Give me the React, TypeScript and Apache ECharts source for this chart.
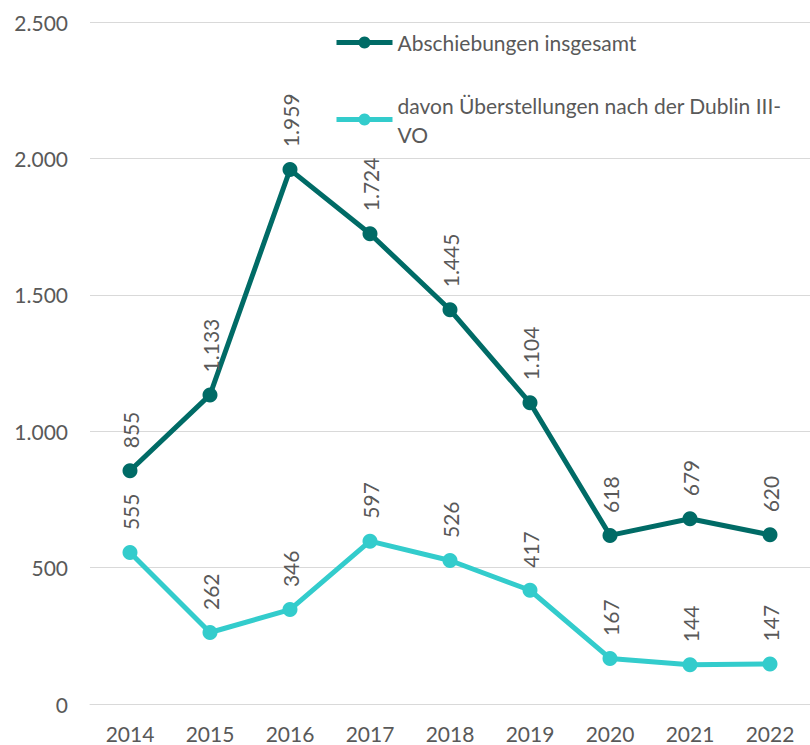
import React, { useEffect, useRef } from "react";
import * as echarts from "echarts";

const years = ["2014", "2015", "2016", "2017", "2018", "2019", "2020", "2021", "2022"];
const abschiebungen = [855, 1133, 1959, 1724, 1445, 1104, 618, 679, 620];
const dublin = [555, 262, 346, 597, 526, 417, 167, 144, 147];
const seriesNames = ["Abschiebungen insgesamt", "davon Überstellungen nach der Dublin III-VO"];

const fmt = (v: number) => {
  const s = String(Math.round(v));
  return s.replace(/\B(?=(\d{3})+(?!\d))/g, ".");
};

const FONT = "Lato";
const TXT = "#595959";
const FS = 21;

export default function App() {
  const ref = useRef<HTMLDivElement>(null);
  useEffect(() => {
    if (!ref.current) return;
    const chart = echarts.init(ref.current, undefined, { renderer: "svg" });
    const label = {
      show: true,
      position: "top" as const,
      rotate: 90,
      align: "left" as const,
      verticalAlign: "middle" as const,
      distance: 15,
      color: TXT,
      fontFamily: FONT,
      fontSize: FS,
      formatter: (p: any) => fmt(p.value),
    };
    chart.setOption({
      animation: false,
      backgroundColor: "#ffffff",
      grid: { left: 90, right: 0, top: 22, bottom: 41, containLabel: false },
      legend: {
        orient: "vertical",
        left: 334,
        top: 28,
        padding: 0,
        itemWidth: 56,
        itemHeight: 15,
        itemGap: 19,
        lineStyle: { width: 5 },
        textStyle: { color: TXT, fontFamily: FONT, fontSize: FS, lineHeight: 29 },
        formatter: (name: string) =>
          name === seriesNames[1] ? "davon Überstellungen nach der Dublin III-\nVO" : name,
        data: [
          { name: seriesNames[0] },
          { name: seriesNames[1], textStyle: { padding: [29, 0, 0, 0] } },
        ],
      },
      xAxis: {
        type: "category",
        data: years,
        boundaryGap: true,
        axisLine: { show: true, lineStyle: { color: "#d9d9d9", width: 1 } },
        axisTick: { show: false },
        axisLabel: { color: TXT, fontFamily: FONT, fontSize: FS, margin: 19 },
      },
      yAxis: {
        type: "value",
        min: 0,
        max: 2500,
        interval: 500,
        axisLine: { show: false },
        axisTick: { show: false },
        splitLine: { lineStyle: { color: "#d9d9d9", width: 1 } },
        axisLabel: {
          color: TXT,
          fontFamily: FONT,
          fontSize: FS,
          margin: 22,
          formatter: (v: number) => fmt(v),
        },
      },
      series: [
        {
          name: seriesNames[0],
          type: "line",
          data: abschiebungen,
          symbol: "circle",
          symbolSize: 15,
          itemStyle: { color: "#006B66" },
          lineStyle: { color: "#006B66", width: 5 },
          label,
        },
        {
          name: seriesNames[1],
          type: "line",
          data: dublin,
          symbol: "circle",
          symbolSize: 15,
          itemStyle: { color: "#33CCCC" },
          lineStyle: { color: "#33CCCC", width: 5 },
          label,
        },
      ],
    });
    return () => chart.dispose();
  }, []);
  return (
    <div
      ref={ref}
      style={{ position: "fixed", left: 0, top: 0, width: 810, height: 745 }}
    />
  );
}
